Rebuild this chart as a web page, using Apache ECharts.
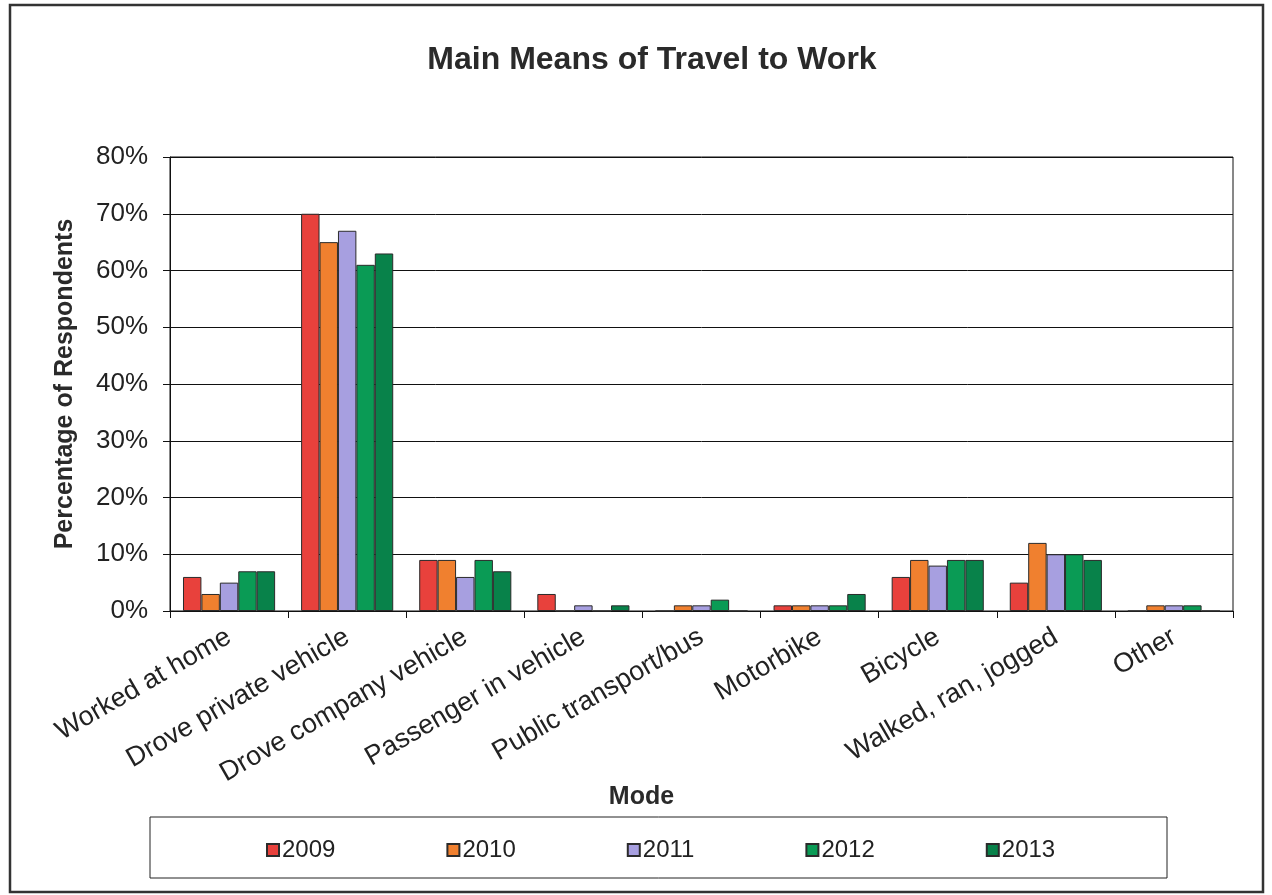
<!DOCTYPE html>
<html>
<head>
<meta charset="utf-8">
<script src="https://cdn.jsdelivr.net/npm/echarts@6/dist/echarts.min.js"></script>
<style>
  html, body { margin: 0; padding: 0; background: #fff; }
  #chart { width: 1272px; height: 895px; }
</style>
</head>
<body>
<div id="chart"></div>
<script>
const categories = [
  'Worked at home', 'Drove private vehicle', 'Drove company vehicle',
  'Passenger in vehicle', 'Public transport/bus', 'Motorbike',
  'Bicycle', 'Walked, ran, jogged', 'Other'
]
const years = ['2009', '2010', '2011', '2012', '2013']
const values2009 = [6, 70, 9, 3, 0, 1, 6, 5, 0]
const values2010 = [3, 65, 9, 0, 1, 1, 9, 12, 1]
const values2011 = [5, 67, 6, 1, 1, 1, 8, 10, 1]
const values2012 = [7, 61, 9, 0, 2, 1, 9, 10, 1]
const values2013 = [7, 63, 7, 1, 0, 3, 9, 9, 0]
const yTicks = [0, 10, 20, 30, 40, 50, 60, 70, 80]

const seriesValues = [values2009, values2010, values2011, values2012, values2013]
const colors = ['#e8413c', '#f0802f', '#a79fe0', '#0a9b55', '#08824a']
const font = '"Liberation Sans", Arial, sans-serif'

const chart = echarts.init(document.getElementById('chart'))

chart.setOption({
  animation: false,
  textStyle: { fontFamily: font, color: '#222' },
  title: {
    text: 'Main Means of Travel to Work',
    left: 647,
    top: 39,
    textAlign: 'center',
    textStyle: { fontFamily: font, fontSize: 32, fontWeight: 'bold', color: '#2a2a2a' },
  },
  legend: {
    data: years,
    left: 261,
    top: 833,
    itemWidth: 12,
    itemHeight: 12,
    itemGap: 111,
    icon: 'rect',
    textStyle: { fontFamily: font, fontSize: 24, color: '#222', padding: [0, 0, 0, -2] },
  },
  grid: {
    left: 170, right: 39, top: 157, bottom: 284,
    show: true, borderColor: '#111', borderWidth: 1,
  },
  xAxis: {
    type: 'category',
    data: categories,
    name: 'Mode',
    nameLocation: 'middle',
    nameGap: 174,
    nameMoveOverlap: false,
    nameTextStyle: {
      fontFamily: font, fontSize: 25, fontWeight: 'bold', color: '#2a2a2a',
      padding: [0, 120, 0, 0],
    },
    axisLine: { lineStyle: { color: '#111', width: 1 } },
    axisTick: { show: true, length: 7, lineStyle: { color: '#111' } },
    axisLabel: { interval: 0, rotate: 30, margin: 24, fontSize: 27, color: '#222', fontFamily: font },
  },
  yAxis: {
    type: 'value',
    min: yTicks[0],
    max: yTicks[yTicks.length - 1],
    interval: 10,
    name: 'Percentage of Respondents',
    nameLocation: 'middle',
    nameGap: 92,
    nameMoveOverlap: false,
    nameTextStyle: { fontFamily: font, fontSize: 25, fontWeight: 'bold', color: '#2a2a2a' },
    axisLine: { show: true, lineStyle: { color: '#111', width: 1 } },
    axisTick: { show: true, length: 7, lineStyle: { color: '#111' } },
    axisLabel: { formatter: '{value}%', fontSize: 26, margin: 22, color: '#222', fontFamily: font },
    splitLine: { lineStyle: { color: '#111', width: 1 } },
  },
  series: years.map((y, i) => ({
    name: y,
    type: 'bar',
    data: seriesValues[i],
    barGap: '0%',
    barCategoryGap: '22%',
    itemStyle: { color: colors[i], borderColor: '#2b2b2b', borderWidth: 1 },
  })),
  graphic: [
    {
      type: 'rect',
      shape: { x: 10, y: 5, width: 1253, height: 887 },
      style: { fill: 'none', stroke: '#333', lineWidth: 2.5 },
      silent: true,
    },
    {
      type: 'rect',
      shape: { x: 150, y: 817, width: 1017, height: 61 },
      style: { fill: 'none', stroke: '#222', lineWidth: 1 },
      silent: true,
    },
  ],
})
</script>
</body>
</html>
